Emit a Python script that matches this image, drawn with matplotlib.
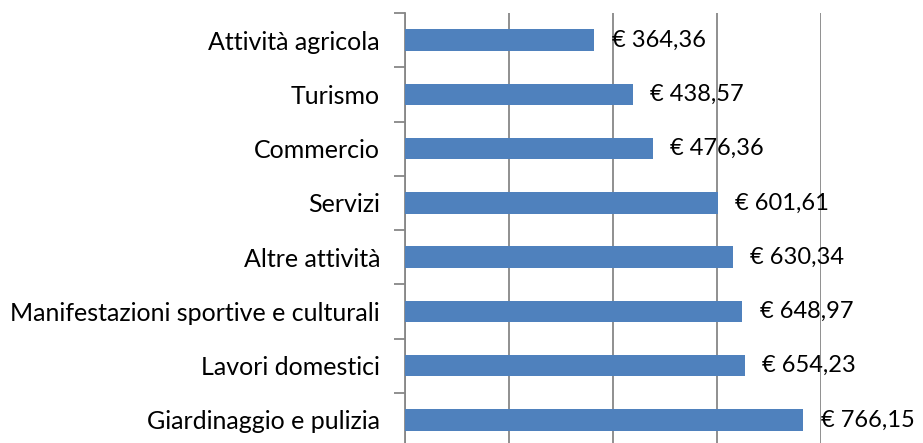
import matplotlib.pyplot as plt
import numpy as np

categories = ["Attività agricola", "Turismo", "Commercio", "Servizi", "Altre attività",
              "Manifestazioni sportive e culturali", "Lavori domestici", "Giardinaggio e pulizia"]
values = [364.36, 438.57, 476.36, 601.61, 630.34, 648.97, 654.23, 766.15]
labels = ["€ 364,36", "€ 438,57", "€ 476,36", "€ 601,61", "€ 630,34", "€ 648,97", "€ 654,23", "€ 766,15"]

plt.rcParams['font.family'] = ['Lato', 'DejaVu Sans']

fig = plt.figure(figsize=(9.23, 4.43), dpi=100)
ax = fig.add_axes([405 / 923, -4 / 443, 416 / 923, 434 / 443])

y = np.arange(len(categories))
ax.barh(y, values, height=0.4, color="#4F81BD", zorder=3)
for yi, v, lab in zip(y, values, labels):
    ax.text(v + 33, yi, lab, va="center", ha="left", fontsize=17, color="black")

ax.set_xlim(0, 800)
ax.set_ylim(len(categories) - 0.5, -0.5)
ax.set_xticks([0, 200, 400, 600, 800])
ax.xaxis.grid(True, color="#878787", linewidth=1.3, zorder=0)
ax.tick_params(axis="x", length=0, labelbottom=False)

ax.set_yticks(y)
ax.set_yticklabels(categories, fontsize=18)
ax.set_yticks(np.arange(-0.5, len(categories), 1), minor=True)
ax.tick_params(axis="y", which="major", length=0, pad=18)
ax.tick_params(axis="y", which="minor", length=8, width=1.3, color="#878787", direction="out")

for s in ["top", "right", "bottom"]:
    ax.spines[s].set_visible(False)
ax.spines["left"].set_color("#878787")
ax.spines["left"].set_linewidth(1.3)

fig.savefig("out.png", dpi=100)
